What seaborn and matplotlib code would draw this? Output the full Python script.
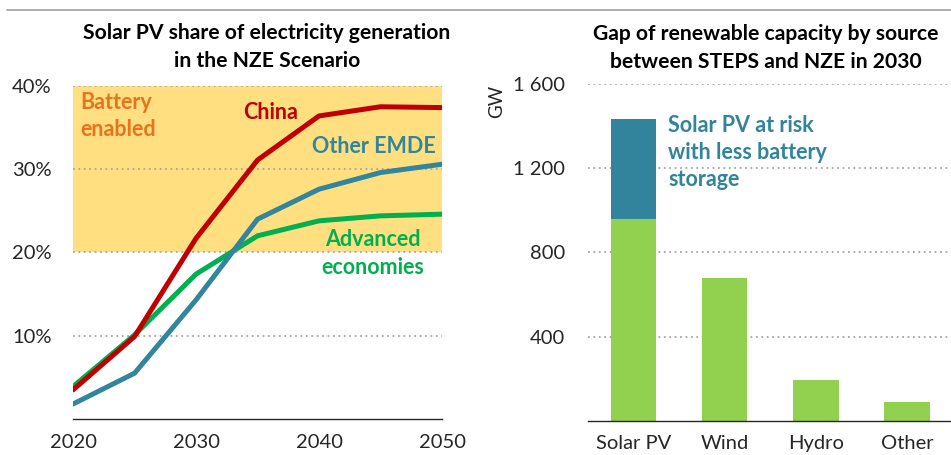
import matplotlib
matplotlib.use("Agg")
import matplotlib.pyplot as plt
import seaborn as sns
import pandas as pd
from matplotlib.lines import Line2D

# Solar PV share of generation in the NZE Scenario (%)
years = [2020, 2025, 2030, 2035, 2040, 2045, 2050]
china = [3.5, 9.9, 21.7, 31.1, 36.4, 37.5, 37.4]
other_emde = [1.8, 5.5, 14.3, 24.0, 27.6, 29.6, 30.6]
advanced = [3.9, 10.1, 17.4, 22.0, 23.8, 24.4, 24.6]
region_names = ["China", "Other EMDE", "Advanced economies"]

# Capacity gap between STEPS and NZE in 2030 (GW)
sources = ["Solar PV", "Wind", "Hydro", "Other"]
gap_base = [960, 677, 192, 87]
gap_at_risk = [475, 0, 0, 0]

sns.set_theme(style="white")
plt.rcParams["font.family"] = ["Lato", "DejaVu Sans"]

C_CHINA = "#C00000"
C_EMDE = "#31859C"
C_ADV = "#00B050"
C_BAT = "#E8731F"
C_BAND = "#FFDF80"
C_BAR = "#92D050"
C_RISK = "#31849B"
C_GRID = "#A6A6A6"
C_TEXT = "#262626"

TICK_FS = 14.5
NOTE_FS = 15.5
TITLE_FS = 15.2

fig = plt.figure(figsize=(9.51, 4.55), dpi=100)
fig.add_artist(Line2D([0.007, 1.0], [0.978, 0.978], color=C_GRID, lw=1.3,
                      transform=fig.transFigure))

# ---------------- left panel: line chart ----------------
ax1 = fig.add_axes([0.0768, 0.0791, 0.388, 0.732])
df = pd.DataFrame({
    "year": years * 3,
    "share": china + other_emde + advanced,
    "region": [region_names[0]] * 7 + [region_names[1]] * 7 + [region_names[2]] * 7,
})
ax1.axhspan(20, 40, color=C_BAND, zorder=0, lw=0)
for v in [10, 20, 30, 40]:
    ax1.axhline(v, color=C_GRID, lw=1.3, ls=(0, (1, 2)), zorder=1)
sns.lineplot(data=df, x="year", y="share", hue="region",
             hue_order=[region_names[2], region_names[1], region_names[0]],
             palette={region_names[0]: C_CHINA, region_names[1]: C_EMDE,
                      region_names[2]: C_ADV},
             lw=3.6, legend=False, ax=ax1, zorder=3,
             solid_capstyle="round", solid_joinstyle="round")
ax1.set_xlim(2020, 2050)
ax1.set_ylim(0, 40)
ax1.set_xticks([2020, 2030, 2040, 2050])
ax1.set_yticks([10, 20, 30, 40])
ax1.set_yticklabels(["10%", "20%", "30%", "40%"])
ax1.set_xlabel("")
ax1.set_ylabel("")
for s in ["top", "right", "left"]:
    ax1.spines[s].set_visible(False)
ax1.spines["bottom"].set_color(C_TEXT)
ax1.spines["bottom"].set_linewidth(1.0)
ax1.tick_params(axis="both", length=0, labelsize=TICK_FS, colors=C_TEXT)
ax1.tick_params(axis="x", pad=11)
ax1.tick_params(axis="y", pad=15.5)
ax1.text(0.526, 1.116, "Solar PV share of electricity generation\nin the NZE Scenario",
         transform=ax1.transAxes, ha="center", va="center", fontsize=TITLE_FS,
         fontweight="bold", color="black", linespacing=1.5)
ax1.text(2020.57, 36.4, "Battery\nenabled", color=C_BAT, fontsize=NOTE_FS,
         fontweight="bold", ha="left", va="center", linespacing=1.35)
ax1.text(2036.1, 36.8, "China", color=C_CHINA, fontsize=NOTE_FS, fontweight="bold",
         ha="center", va="center")
ax1.text(2039.4, 32.7, "Other EMDE", color=C_EMDE, fontsize=NOTE_FS,
         fontweight="bold", ha="left", va="center")
ax1.text(2044.4, 19.9, "Advanced\neconomies", color=C_ADV, fontsize=NOTE_FS,
         fontweight="bold", ha="center", va="center", linespacing=1.4)

# ---------------- right panel: bar chart ----------------
ax2 = fig.add_axes([0.618, 0.0754, 0.382, 0.740])
for v in [400, 800, 1200, 1600]:
    ax2.axhline(v, color=C_GRID, lw=1.3, ls=(0, (1, 2)), zorder=0)
bars = pd.DataFrame({"source": sources, "base": gap_base, "risk": gap_at_risk})
sns.barplot(data=bars, x="source", y="base", color=C_BAR, width=0.5,
            saturation=1, ax=ax2, zorder=2)
ax2.bar(range(len(sources)), gap_at_risk, bottom=gap_base, width=0.5,
        color=C_RISK, zorder=2, lw=0)
for p in ax2.patches:
    p.set_linewidth(0)
ax2.set_xlim(-0.5, 3.48)
ax2.set_ylim(0, 1600)
ax2.set_yticks([400, 800, 1200, 1600])
ax2.set_yticklabels(["400", "800", "1 200", "1 600"])
ax2.set_xlabel("")
ax2.set_ylabel("")
ax2.text(-0.251, 0.947, "GW", transform=ax2.transAxes, rotation=90,
         ha="center", va="center", fontsize=13.5, color=C_TEXT)
for s in ["top", "right", "left"]:
    ax2.spines[s].set_visible(False)
ax2.spines["bottom"].set_color(C_TEXT)
ax2.spines["bottom"].set_linewidth(1.0)
ax2.tick_params(axis="both", length=0, labelsize=TICK_FS, colors=C_TEXT)
ax2.tick_params(axis="x", pad=10.5)
ax2.tick_params(axis="y", pad=16)
ax2.text(0.49, 1.108, "Gap of renewable capacity by source\nbetween STEPS and NZE in 2030",
         transform=ax2.transAxes, ha="center", va="center", fontsize=TITLE_FS,
         fontweight="bold", color="black", linespacing=1.5)
ax2.text(0.385, 1275, "Solar PV at risk\nwith less battery\nstorage", color=C_RISK,
         fontsize=NOTE_FS, fontweight="bold", ha="left", va="center", linespacing=1.35)

fig.savefig("out.png", dpi=100)
